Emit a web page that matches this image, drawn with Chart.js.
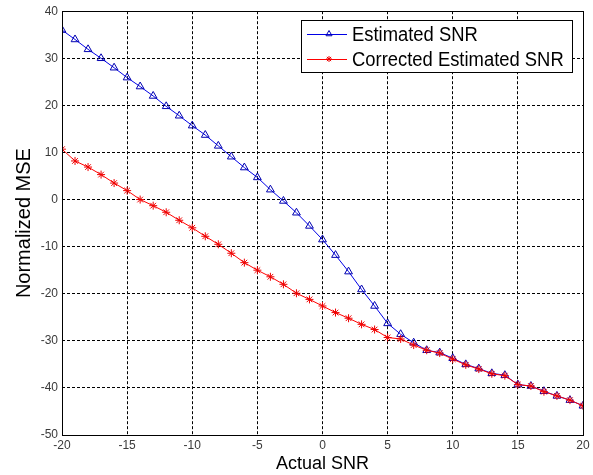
<!DOCTYPE html>
<html>
<head>
<meta charset="utf-8">
<script src="https://cdn.jsdelivr.net/npm/chart.js@4.4.1/dist/chart.umd.min.js"></script>
<style>
html,body{margin:0;padding:0;background:#fff;}
#wrap{width:593px;height:475px;position:relative;}
</style>
</head>
<body>
<div id="wrap"><canvas id="c" width="593" height="475"></canvas></div>
<script>
const actualSNR = [-20,-19,-18,-17,-16,-15,-14,-13,-12,-11,-10,-9,-8,-7,-6,-5,-4,-3,-2,-1,0,1,2,3,4,5,6,7,8,9,10,11,12,13,14,15,16,17,18,19,20];
const estimatedSNR = [36.0,34.0,31.9,30.0,28.0,25.9,24.0,22.0,19.8,17.8,15.7,13.7,11.4,9.1,6.8,4.7,2.1,-0.3,-2.8,-5.6,-8.5,-11.8,-15.3,-19.1,-22.6,-26.3,-28.6,-30.4,-32.0,-32.5,-33.7,-35.0,-35.9,-36.9,-37.3,-39.3,-39.6,-40.7,-41.7,-42.6,-43.8];
const correctedSNR = [10.7,8.2,6.9,5.3,3.5,1.9,0.0,-1.3,-2.7,-4.4,-6.0,-7.8,-9.5,-11.4,-13.4,-15.0,-16.4,-18.0,-19.9,-21.2,-22.6,-24.0,-25.2,-26.5,-27.6,-29.3,-29.6,-30.9,-32.0,-32.6,-33.9,-35.1,-36.0,-37.0,-37.4,-39.3,-39.6,-40.8,-41.7,-42.6,-43.8];
const seriesNames = ["Estimated SNR","Corrected Estimated SNR"];
const xTitle = "Actual SNR";
const yTitle = "Normalized MSE";

const FONT = "'Liberation Sans', Arial, sans-serif";

const boxPlugin = {
  id: 'boxAndLegend',
  afterDraw(chart) {
    const ctx = chart.ctx, a = chart.chartArea;
    ctx.save();
    ctx.strokeStyle = '#000';
    ctx.lineWidth = 1;
    ctx.setLineDash([]);
    ctx.strokeRect(Math.round(a.left)+0.5, Math.round(a.top)+0.5, Math.round(a.right-a.left), Math.round(a.bottom-a.top));
    // legend (inside plot, top right)
    const dsOrder = [0,1];
    const sx = 0.92;
    ctx.font = '20px ' + FONT;
    let maxW = 0;
    dsOrder.forEach(i => { maxW = Math.max(maxW, ctx.measureText(chart.data.datasets[i].label).width * sx); });
    const padR = 8, sampleW = 51, rowH = 25;
    const w = Math.round(sampleW + maxW + padR);
    const h = 52;
    const right = Math.round(a.right) - 11;
    const x0 = right - w, y0 = Math.round(a.top) + 9;
    ctx.fillStyle = '#fff';
    ctx.fillRect(x0, y0, w, h);
    ctx.strokeStyle = '#000';
    ctx.strokeRect(x0+0.5, y0+0.5, w, h);
    dsOrder.forEach((i, k) => {
      const ds = chart.data.datasets[i];
      const cy = y0 + 14 + k*rowH;
      ctx.strokeStyle = ds.borderColor;
      ctx.lineWidth = 1;
      ctx.beginPath();
      ctx.moveTo(x0 + 6, cy + 0.5);
      ctx.lineTo(x0 + 46, cy + 0.5);
      ctx.stroke();
      ctx.strokeStyle = ds.pointBorderColor;
      ctx.fillStyle = 'rgba(0,0,0,0)';
      Chart.helpers.drawPoint(ctx, {pointStyle: ds.pointStyle, radius: ds.pointRadius - 1, borderWidth: 1, rotation: 0}, x0 + 28, cy);
      ctx.save();
      ctx.translate(x0 + sampleW, cy + 1);
      ctx.scale(sx, 1);
      ctx.fillStyle = '#000';
      ctx.textBaseline = 'middle';
      ctx.textAlign = 'left';
      ctx.fillText(ds.label, 0, 0);
      ctx.restore();
    });
    ctx.restore();
  }
};

const pts = (ys) => actualSNR.map((x, i) => ({x: x, y: ys[i]}));

new Chart(document.getElementById('c'), {
  type: 'line',
  data: {
    datasets: [
      {
        label: seriesNames[0],
        data: pts(estimatedSNR),
        borderColor: '#0000e6',
        backgroundColor: 'rgba(0,0,0,0)',
        borderWidth: 1,
        pointStyle: 'triangle',
        pointRadius: 4.5,
        pointBorderWidth: 1,
        pointBackgroundColor: 'rgba(0,0,0,0)',
        pointBorderColor: '#0000b0',
        tension: 0,
        order: 1
      },
      {
        label: seriesNames[1],
        data: pts(correctedSNR),
        borderColor: '#ff0000',
        backgroundColor: 'rgba(0,0,0,0)',
        borderWidth: 1,
        pointStyle: 'star',
        pointRadius: 4,
        pointBorderWidth: 1,
        pointBorderColor: '#ee0000',
        tension: 0,
        order: 0
      }
    ]
  },
  options: {
    responsive: false,
    animation: false,
    layout: { padding: { left: 0, right: 10, top: 11, bottom: 0 } },
    plugins: { legend: { display: false }, tooltip: { enabled: false } },
    scales: {
      x: {
        type: 'linear', min: -20, max: 20,
        afterFit(s) { s.height = 40; },
        ticks: { stepSize: 5, color: '#3a3a3a', font: { family: FONT, size: 12 }, padding: 3, maxRotation: 0 },
        grid: { color: '#000', lineWidth: 1, drawTicks: false },
        border: { display: false, dash: [3,2] },
        title: { display: true, text: xTitle, color: '#000', font: { family: FONT, size: 18 }, padding: { top: 0, bottom: 0 } }
      },
      y: {
        min: -50, max: 40,
        afterFit(s) { s.width = 62; },
        ticks: { stepSize: 10, color: '#3a3a3a', font: { family: FONT, size: 12 }, padding: 4 },
        grid: { color: '#000', lineWidth: 1, drawTicks: false },
        border: { display: false, dash: [3,2] },
        title: { display: true, text: yTitle, color: '#000', font: { family: FONT, size: 20 }, padding: { top: 12, bottom: 0 } }
      }
    }
  },
  plugins: [boxPlugin]
});
</script>
</body>
</html>
